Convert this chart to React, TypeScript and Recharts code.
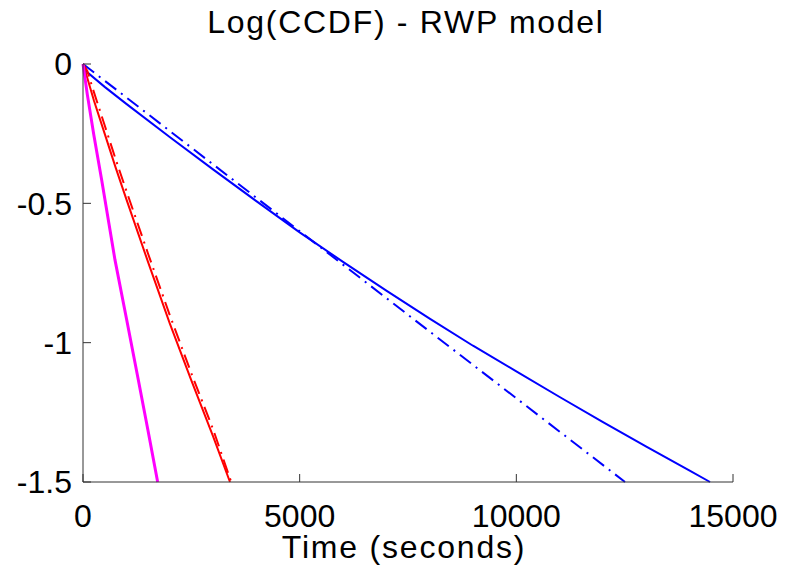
import React from 'react';
import { LineChart, Line, XAxis, YAxis } from 'recharts';

// time (s) / log(CCDF) pairs
const blueSolidT = [0, 100, 500, 1000, 2000, 3000, 4000, 5000, 6000, 7000, 8000, 9000, 10000, 11000, 12000, 13000, 14000, 14470];
const blueSolidY = [0, -0.03, -0.082, -0.143, -0.262, -0.378, -0.492, -0.604, -0.71, -0.813, -0.914, -1.011, -1.103, -1.195, -1.285, -1.373, -1.459, -1.5];

const blueDashT = [0, 4000, 8000, 12508];
const blueDashY = [0, -0.48, -0.96, -1.5];

const redSolidT = [0, 100, 250, 500, 750, 1000, 1500, 2000, 2500, 3000, 3392];
const redSolidY = [0, -0.05, -0.13, -0.25, -0.37, -0.485, -0.71, -0.93, -1.135, -1.335, -1.5];

const redDashT = [0, 100, 250, 500, 750, 1000, 1500, 2000, 2500, 3000, 3420];
const redDashY = [0, -0.025, -0.1, -0.22, -0.34, -0.455, -0.68, -0.9, -1.11, -1.31, -1.5];

const magentaT = [0, 100, 250, 431, 600, 738, 1008, 1277, 1500, 1723];
const magentaY = [0, -0.11, -0.255, -0.416, -0.574, -0.703, -0.918, -1.134, -1.315, -1.5];

const xTicks = [0, 5000, 10000, 15000];
const yTicks = [0, -0.5, -1, -1.5];

const toPoints = (t: number[], y: number[]) => t.map((v, i) => ({ t: v, y: y[i] }));

const FONT = '"Liberation Sans", Arial, Helvetica, sans-serif';

const App = () => {
  const tickStyle = { fontSize: 32, fill: '#000', fontFamily: FONT };

  return (
    <div style={{ position: 'absolute', left: 0, top: 0, width: 787, height: 566, background: '#fff' }}>
      <style>{'body{margin:0;}'}</style>
      <LineChart width={787} height={566} margin={{ top: 64, right: 54, left: 0, bottom: 0 }}>
        <XAxis
          type="number"
          dataKey="t"
          domain={[0, 15000]}
          ticks={xTicks}
          height={84}
          tickSize={-8}
          tickMargin={30}
          tick={tickStyle}
          stroke="#333"
          tickLine={{ stroke: '#333' }}
          axisLine={{ stroke: '#333' }}
          allowDuplicatedCategory={false}
        />
        <YAxis
          type="number"
          dataKey="y"
          domain={[-1.5, 0]}
          ticks={yTicks}
          width={83}
          tickSize={-8}
          tickMargin={19}
          tick={tickStyle}
          stroke="#333"
          tickLine={{ stroke: '#333' }}
          axisLine={{ stroke: '#333' }}
        />
        <Line data={toPoints(blueDashT, blueDashY)} dataKey="y" type="linear" stroke="#0000ff" strokeWidth={2} strokeDasharray="14 6 2 6" dot={false} isAnimationActive={false} />
        <Line data={toPoints(blueSolidT, blueSolidY)} dataKey="y" type="linear" stroke="#0000ff" strokeWidth={2} dot={false} isAnimationActive={false} />
        <Line data={toPoints(redDashT, redDashY)} dataKey="y" type="linear" stroke="#ff0000" strokeWidth={2} strokeDasharray="14 6 2 6" dot={false} isAnimationActive={false} />
        <Line data={toPoints(redSolidT, redSolidY)} dataKey="y" type="linear" stroke="#ff0000" strokeWidth={2} dot={false} isAnimationActive={false} />
        <Line data={toPoints(magentaT, magentaY)} dataKey="y" type="linear" stroke="#ff00ff" strokeWidth={3} dot={false} isAnimationActive={false} />
      </LineChart>
      <svg width={787} height={566} style={{ position: 'absolute', left: 0, top: 0, pointerEvents: 'none' }}>
        <text x={406} y={33} textAnchor="middle" fontSize={32} fontFamily={FONT} letterSpacing={1.7} fill="#000">
          Log(CCDF) - RWP model
        </text>
        <text x={404} y={558} textAnchor="middle" fontSize={32} fontFamily={FONT} letterSpacing={1.8} fill="#000">
          Time (seconds)
        </text>
      </svg>
    </div>
  );
};

export default App;
